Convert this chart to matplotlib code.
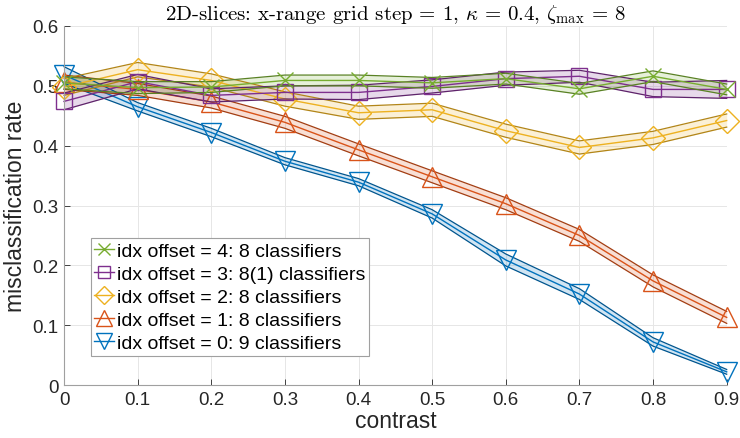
import numpy as np
import matplotlib
matplotlib.use("Agg")
import matplotlib.pyplot as plt

plt.rcParams['font.family'] = ['Liberation Sans', 'DejaVu Sans']
plt.rcParams['mathtext.fontset'] = 'cm'

# contrast values on the x axis
contrast = [0, 0.1, 0.2, 0.3, 0.4, 0.5, 0.6, 0.7, 0.8, 0.9]

# mean misclassification rate per idx offset
off0 = [0.518, 0.465, 0.422, 0.374, 0.339, 0.286, 0.209, 0.152, 0.072, 0.022]
off1 = [0.506, 0.494, 0.473, 0.439, 0.393, 0.348, 0.303, 0.250, 0.174, 0.113]
off2 = [0.498, 0.527, 0.509, 0.478, 0.455, 0.460, 0.425, 0.397, 0.413, 0.442]
off3 = [0.474, 0.507, 0.484, 0.489, 0.489, 0.499, 0.512, 0.516, 0.494, 0.494]
off4 = [0.505, 0.497, 0.498, 0.509, 0.509, 0.505, 0.512, 0.495, 0.516, 0.494]

# half width of the shaded band
err0 = [0.014, 0.007, 0.007, 0.006, 0.006, 0.007, 0.010, 0.009, 0.007, 0.004]
err1 = [0.012, 0.010, 0.010, 0.010, 0.010, 0.010, 0.010, 0.010, 0.010, 0.010]
err2 = [0.014, 0.012, 0.011, 0.012, 0.011, 0.011, 0.011, 0.011, 0.011, 0.011]
err3 = [0.014, 0.012, 0.011, 0.011, 0.012, 0.011, 0.011, 0.010, 0.012, 0.015]
err4 = [0.010, 0.010, 0.009, 0.009, 0.009, 0.009, 0.009, 0.009, 0.009, 0.009]

labels = ['idx offset = 0: 9 classifiers',
          'idx offset = 1: 8 classifiers',
          'idx offset = 2: 8 classifiers',
          'idx offset = 3: 8(1) classifiers',
          'idx offset = 4: 8 classifiers']

colors = [(0.000, 0.447, 0.741), (0.850, 0.325, 0.098), (0.929, 0.694, 0.125),
          (0.494, 0.184, 0.556), (0.466, 0.674, 0.188)]
markers = ['v', '^', 'D', 's', 'x']
msizes = [14, 14, 12, 11, 11]

fig = plt.figure(figsize=(7.4, 4.39), dpi=100)
ax = fig.add_axes([0.0865, 0.1207, 0.8955, 0.8178])

x = np.array(contrast)
handles = []
for mean, err, c, m, ms, lab in zip([off0, off1, off2, off3, off4],
                                    [err0, err1, err2, err3, err4],
                                    colors, markers, msizes, labels):
    mean = np.array(mean)
    err = np.array(err)
    edge = tuple(v * 0.75 for v in c)
    ax.fill_between(x, mean - err, mean + err, color=c, alpha=0.18, lw=0, clip_on=False)
    ax.plot(x, mean - err, color=edge, lw=0.9, clip_on=False)
    ax.plot(x, mean + err, color=edge, lw=0.9, clip_on=False)
    h, = ax.plot(x, mean, color=c, lw=1.0, marker=m, ms=ms, mfc='none',
                 mec=c, mew=1.0, clip_on=False, label=lab)
    handles.append(h)

ax.set_xlim(0, 0.9)
ax.set_ylim(0, 0.6)
ax.set_xticks(contrast)
ax.set_xticklabels(['0', '0.1', '0.2', '0.3', '0.4', '0.5', '0.6', '0.7', '0.8', '0.9'])
ax.set_yticks([0, 0.1, 0.2, 0.3, 0.4, 0.5, 0.6])
ax.set_yticklabels(['0', '0.1', '0.2', '0.3', '0.4', '0.5', '0.6'])
ax.tick_params(direction='in', length=4, width=0.6, colors='#262626', labelsize=13.5, pad=4)
ax.grid(True, color='#e6e6e6', lw=0.7)
ax.set_axisbelow(True)
for s in ['top', 'right']:
    ax.spines[s].set_visible(False)
for s in ['left', 'bottom']:
    ax.spines[s].set_color('#a0a0a0')
    ax.spines[s].set_linewidth(0.8)

ax.set_xlabel('contrast', fontsize=16.5, color='#262626', labelpad=1)
ax.set_ylabel('misclassification rate', fontsize=16.5, color='#262626', labelpad=4)
ax.set_title(r'2D-slices: x-range grid step = 1, $\kappa$ = 0.4, $\zeta_{\max}$ = 8',
             fontsize=15, family='cmr10', pad=5)

leg = ax.legend(handles[::-1], labels[::-1], loc='lower left', bbox_to_anchor=(0.04, 0.081),
                borderaxespad=0, fontsize=14, handlelength=1.0, handletextpad=0.15,
                labelspacing=0.28, borderpad=0.2, fancybox=False, framealpha=1,
                edgecolor='#a0a0a0', markerscale=0.8)
leg.get_frame().set_linewidth(0.8)

fig.savefig('out.png', dpi=100)
